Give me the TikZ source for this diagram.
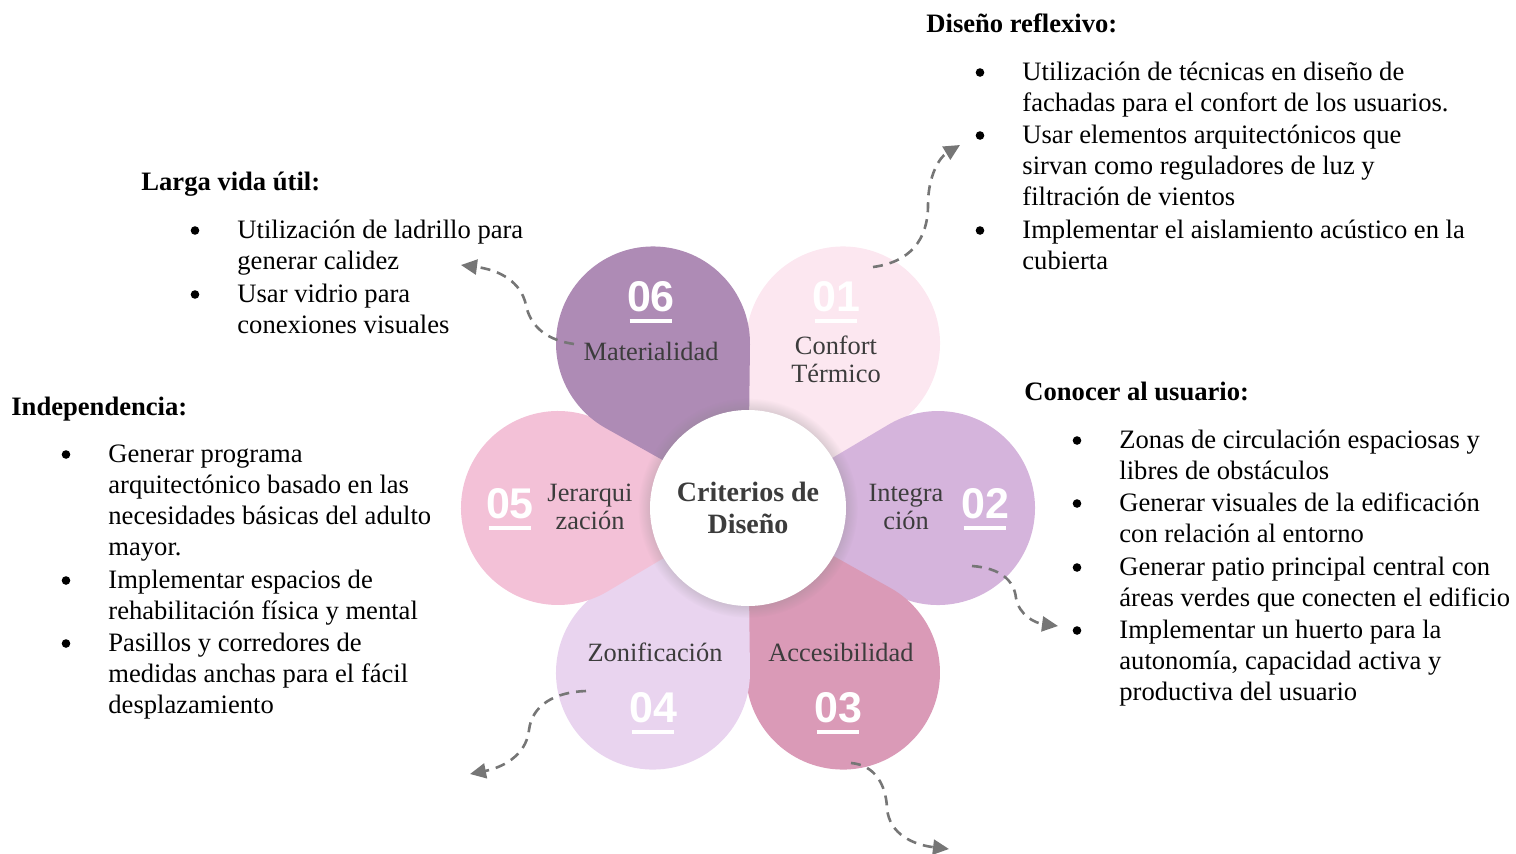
\documentclass[tikz,border=0pt]{standalone}
\usepackage{fontspec}
\setmainfont{Liberation Serif}
\newfontfamily\numfont{Liberation Sans}
\usetikzlibrary{arrows.meta,shadows}
\definecolor{petalA}{HTML}{FCE7F0}
\definecolor{petalB}{HTML}{D5B4DC}
\definecolor{petalC}{HTML}{DA9AB7}
\definecolor{petalD}{HTML}{E9D4EF}
\definecolor{petalE}{HTML}{F3C1D7}
\definecolor{petalF}{HTML}{AE8BB5}
\definecolor{labelgray}{HTML}{3C3C3C}
\definecolor{arrowgray}{HTML}{767676}
\tikzset{
  head/.style={anchor=base west, inner sep=0pt, font=\fontsize{13.3}{15.6}\selectfont\bfseries},
  item/.style={anchor=north west, inner sep=0pt, align=left, font=\fontsize{13.3}{15.6}\selectfont},
  dot/.style={circle, fill=black, inner sep=0pt, minimum size=4.3pt},
  num/.style={inner sep=0pt, text=white, font=\numfont\bfseries\fontsize{21.5}{22}\selectfont},
  bar/.style={white, line width=2pt},
  tag/.style={inner sep=0pt, align=center, text=labelgray, font=\fontsize{13.2}{14}\selectfont},
  hub/.style={circle, fill=white, minimum size=98pt, inner sep=0pt, align=center, text=labelgray,
    font=\fontsize{14}{16}\selectfont\bfseries,
    circular drop shadow={shadow xshift=0pt, shadow yshift=0pt, shadow scale=1.12, opacity=0.35}},
  link/.style={draw=arrowgray, line width=1.3pt, dash pattern=on 5pt off 3.5pt,
    -{Triangle[length=8pt,width=7.5pt]}}
}
\begin{document}
\begin{tikzpicture}[x=0.5pt,y=-0.5pt]
  \useasboundingbox (0,0) rectangle (1516,853);
  \coordinate (O) at (748,508);

  % petals
  \foreach \k/\c in {1/petalA,2/petalB,3/petalC,4/petalD,5/petalE,6/petalF}
    \fill[\c] (O) -- ++({(\k-2)*60+30.7}:163.4)
      arc[start angle={(\k-2)*60+120.7}, end angle={(\k-2)*60-120.7}, radius=97] -- cycle;

  \node[hub] (hub) at (O) {Criterios de\\Diseño};

  % numbers
  \foreach \k/\x/\y in {06/651/297, 01/836/297, 02/985/504, 03/838/708, 04/653/708, 05/510/504} {
    \node[num] (n\k) at (\x,\y) {\k};
    \draw[bar] ([xshift=1.5pt,yshift=-4.3pt]n\k.south west) -- ([xshift=-1.5pt,yshift=-4.3pt]n\k.south east);
  }
  \node[tag] (t06) at (651,351) {Materialidad};
  \node[tag] (t01) at (836,359) {Confort\\Térmico};
  \node[tag] (t02) at (906,507) {Integra\\ción};
  \node[tag] (t03) at (841,652) {Accesibilidad};
  \node[tag] (t04) at (655,652) {Zonificación};
  \node[tag] (t05) at (590,507) {Jerarqui\\zación};

  % text blocks
  \node[head] (hDis) at (926,32) {Diseño reflexivo:};
  \node[item] (d1) at (1022,58) {\strut Utilización de técnicas en diseño de\\fachadas para el confort de los usuarios.};
  \node[item] (d2) at (1022,121) {\strut Usar elementos arquitectónicos que\\sirvan como reguladores de luz y\\filtración de vientos};
  \node[item] (d3) at (1022,216) {\strut Implementar el aislamiento acústico en la\\cubierta};

  \node[head] (hLar) at (141,190) {Larga vida útil:};
  \node[item] (l1) at (237,216) {\strut Utilización de ladrillo para\\generar calidez};
  \node[item] (l2) at (237,280) {\strut Usar vidrio para\\conexiones visuales};

  \node[head] (hInd) at (11,415) {Independencia:};
  \node[item] (i1) at (108,440) {\strut Generar programa\\arquitectónico basado en las\\necesidades básicas del adulto\\mayor.};
  \node[item] (i2) at (108,566) {\strut Implementar espacios de\\rehabilitación física y mental};
  \node[item] (i3) at (108,629) {\strut Pasillos y corredores de\\medidas anchas para el fácil\\desplazamiento};

  \node[head] (hCon) at (1024,400) {Conocer al usuario:};
  \node[item] (c1) at (1119,426) {\strut Zonas de circulación espaciosas y\\libres de obstáculos};
  \node[item] (c2) at (1119,489) {\strut Generar visuales de la edificación\\con relación al entorno};
  \node[item] (c3) at (1119,553) {\strut Generar patio principal central con\\áreas verdes que conecten el edificio};
  \node[item] (c4) at (1119,616) {\strut Implementar un huerto para la\\autonomía, capacidad activa y\\productiva del usuario};

  \foreach \n in {d1,d2,d3,l1,l2,i1,i2,i3,c1,c2,c3,c4}
    \node[dot] (b\n) at ([xshift=-21pt,yshift=-7.25pt]\n.north west) {};

  % arrows
  \coordinate (a1s) at (873,267); \coordinate (a1e) at (960,145);
  \coordinate (a2s) at (574,344); \coordinate (a2e) at (461,265);
  \coordinate (a3s) at (972,566); \coordinate (a3e) at (1058,626);
  \coordinate (a4s) at (586,691); \coordinate (a4e) at (470,774);
  \coordinate (a5s) at (851,763); \coordinate (a5e) at (949,849);
  \draw[link] (a1s) .. controls (910,262) and (928,240) .. (928,205) .. controls (928,175) and (940,157) .. (a1e);
  \draw[link] (a2s) .. controls (545,340) and (530,325) .. (526,305) .. controls (521,282) and (500,270) .. (a2e);
  \draw[link] (a3s) .. controls (1000,568) and (1014,580) .. (1016,598) .. controls (1019,615) and (1035,623) .. (a3e);
  \draw[link] (a4s) .. controls (555,692) and (532,705) .. (529,730) .. controls (526,757) and (500,768) .. (a4e);
  \draw[link] (a5s) .. controls (875,765) and (886,785) .. (887,808) .. controls (889,835) and (915,845) .. (a5e);
\end{tikzpicture}
\end{document}
